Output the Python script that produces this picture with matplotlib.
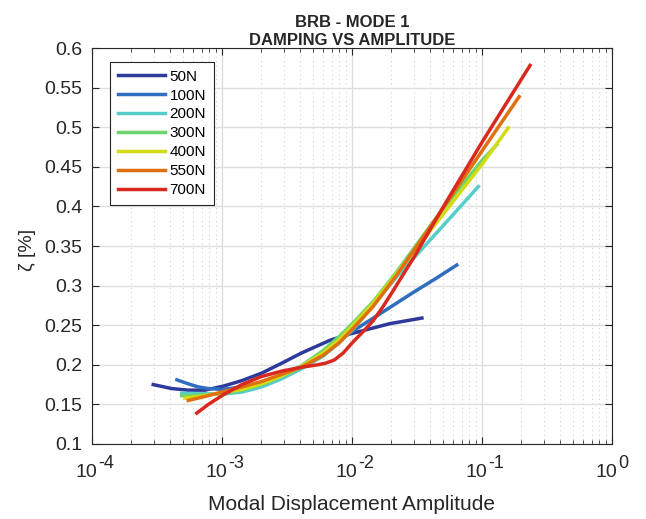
import numpy as np
import matplotlib
matplotlib.use("Agg")
import matplotlib.pyplot as plt
from matplotlib.ticker import LogLocator, NullFormatter, FixedLocator

plt.rcParams['font.family'] = ['Liberation Sans', 'DejaVu Sans']

# =======================
# data
# =======================
labels = ['50N', '100N', '200N', '300N', '400N', '550N', '700N']
colors = ['#2D3A9C', '#2F6DBF', '#56CDCB', '#6DD46E', '#D3DC12', '#E0700F', '#D9291F']

x_50 = [2.96e-4, 4.1e-4, 5.5e-4, 7.4e-4, 1.02e-3, 1.42e-3, 2.02e-3, 2.88e-3, 4.1e-3, 6.78e-3, 9.66e-3, 1.38e-2, 1.96e-2, 3.45e-2]
y_50 = [0.175, 0.170, 0.168, 0.168, 0.173, 0.180, 0.1895, 0.202, 0.215, 0.231, 0.239, 0.2455, 0.252, 0.259]

x_100 = [4.5e-4, 5.5e-4, 6.6e-4, 7.8e-4, 1.02e-3, 1.42e-3, 2.02e-3, 2.88e-3, 4.1e-3, 5.5e-3, 7.4e-3, 1.0e-2, 1.46e-2, 1.96e-2, 3.0e-2, 4.5e-2, 6.4e-2]
y_100 = [0.181, 0.176, 0.172, 0.170, 0.169, 0.172, 0.177, 0.186, 0.198, 0.211, 0.226, 0.242, 0.259, 0.2725, 0.292, 0.3098, 0.326]

x_200 = [4.9e-4, 7.4e-4, 1.02e-3, 1.42e-3, 2.02e-3, 2.88e-3, 4.1e-3, 6.0e-3, 8.0e-3, 1.02e-2, 1.46e-2, 2.2e-2, 4.5e-2, 9.37e-2]
y_200 = [0.164, 0.1634, 0.163, 0.1655, 0.172, 0.1824, 0.195, 0.211, 0.228, 0.245, 0.275, 0.311, 0.367, 0.425]

x_300 = [4.9e-4, 7.4e-4, 1.02e-3, 1.42e-3, 2.02e-3, 2.88e-3, 4.1e-3, 6.0e-3, 8.0e-3, 1.02e-2, 1.46e-2, 2.2e-2, 4.75e-2, 0.1, 0.13]
y_300 = [0.161, 0.162, 0.164, 0.168, 0.175, 0.186, 0.199, 0.218, 0.236, 0.253, 0.280, 0.317, 0.392, 0.458, 0.478]

x_400 = [5.2e-4, 7.4e-4, 1.02e-3, 1.42e-3, 2.02e-3, 2.88e-3, 4.1e-3, 6.0e-3, 8.0e-3, 1.02e-2, 1.46e-2, 2.2e-2, 4.75e-2, 0.1, 0.159]
y_400 = [0.158, 0.161, 0.165, 0.169, 0.176, 0.186, 0.198, 0.215, 0.232, 0.250, 0.278, 0.315, 0.385, 0.453, 0.499]

x_550 = [5.5e-4, 7.4e-4, 1.02e-3, 1.42e-3, 2.02e-3, 2.88e-3, 4.1e-3, 6.0e-3, 8.0e-3, 1.02e-2, 1.46e-2, 2.2e-2, 4.75e-2, 0.1, 0.193]
y_550 = [0.155, 0.160, 0.166, 0.172, 0.179, 0.188, 0.197, 0.212, 0.228, 0.246, 0.274, 0.313, 0.392, 0.470, 0.5385]

x_700 = [6.4e-4, 7.85e-4, 1.02e-3, 1.42e-3, 2.02e-3, 2.88e-3, 4.1e-3, 5.2e-3, 6.2e-3, 7.3e-3, 8.57e-3, 1.02e-2, 1.22e-2, 1.46e-2, 1.74e-2, 2.08e-2, 3.0e-2, 5.19e-2, 0.1, 0.234]
y_700 = [0.139, 0.150, 0.162, 0.175, 0.1853, 0.192, 0.197, 0.1995, 0.2018, 0.206, 0.215, 0.229, 0.242, 0.256, 0.274, 0.294, 0.336, 0.403, 0.481, 0.578]

series = [(x_50, y_50), (x_100, y_100), (x_200, y_200), (x_300, y_300),
          (x_400, y_400), (x_550, y_550), (x_700, y_700)]

x_ticks = [1e-4, 1e-3, 1e-2, 1e-1, 1e0]
x_exps = ['-4', '-3', '-2', '-1', '0']
y_ticks = [0.1, 0.15, 0.2, 0.25, 0.3, 0.35, 0.4, 0.45, 0.5, 0.55, 0.6]
y_tick_labels = ['0.1', '0.15', '0.2', '0.25', '0.3', '0.35', '0.4', '0.45', '0.5', '0.55', '0.6']

# =======================
# plot
# =======================
fig = plt.figure(figsize=(6.46, 5.19), dpi=100)
ax = fig.add_axes([92/646, 75/519, 520/646, 396/519])

for (xs, ys), lab, c in zip(series, labels, colors):
    ax.plot(xs, ys, color=c, lw=2.5, label=lab, solid_joinstyle='round')

ax.set_xscale('log')
ax.set_xlim(1e-4, 1e0)
ax.set_ylim(0.1, 0.6)
ax.set_yticks(y_ticks)
ax.set_yticklabels(y_tick_labels)
ax.xaxis.set_major_locator(FixedLocator(x_ticks))
ax.xaxis.set_major_formatter(NullFormatter())
ax.xaxis.set_minor_locator(LogLocator(base=10, subs=np.arange(2, 10), numticks=20))
ax.xaxis.set_minor_formatter(NullFormatter())

# matlab style 10^n labels with a big exponent
for xt, ex in zip(x_ticks, x_exps):
    ax.annotate('10', xy=(xt, 0), xycoords=('data', 'axes fraction'),
                xytext=(3.8, -23.8), textcoords='offset points',
                ha='right', va='baseline', fontsize=14, color='#262626')
    ax.annotate(ex, xy=(xt, 0), xycoords=('data', 'axes fraction'),
                xytext=(4.2, -17.3), textcoords='offset points',
                ha='left', va='baseline', fontsize=13, color='#262626')

ax.grid(True, which='major', color='#DEDEDE', lw=1.0, ls='-')
ax.grid(True, which='minor', axis='x', color='#CFCFCF', lw=0.8, ls=(0, (1, 3)))
ax.set_axisbelow(True)

ax.tick_params(which='both', direction='in', top=True, right=True, colors='#262626')
ax.tick_params(axis='y', labelsize=14, pad=7)
ax.tick_params(which='major', length=5, width=0.8)
ax.tick_params(which='minor', length=3, width=0.6)
for s in ax.spines.values():
    s.set_color('#262626')
    s.set_linewidth(0.8)

ax.set_xlabel('Modal Displacement Amplitude', fontsize=15, color='#262626')
ax.xaxis.set_label_coords(0.5, -0.128)
ax.set_ylabel('ζ [%]', fontsize=14, color='#262626')
ax.yaxis.set_label_coords(-0.108, 0.49)
ax.set_title('BRB - MODE 1\nDAMPING VS AMPLITUDE', fontsize=12, fontweight='bold',
             color='#262626', linespacing=1.25, pad=2.5)

leg = ax.legend(loc='upper left', bbox_to_anchor=(0.0346, 0.9646), borderaxespad=0,
                fontsize=11, handlelength=3.1, handletextpad=0.3, labelspacing=0.32,
                borderpad=0.5, fancybox=False, framealpha=1, edgecolor='#262626')
leg.get_frame().set_linewidth(0.8)

fig.savefig('out.png', dpi=100)
